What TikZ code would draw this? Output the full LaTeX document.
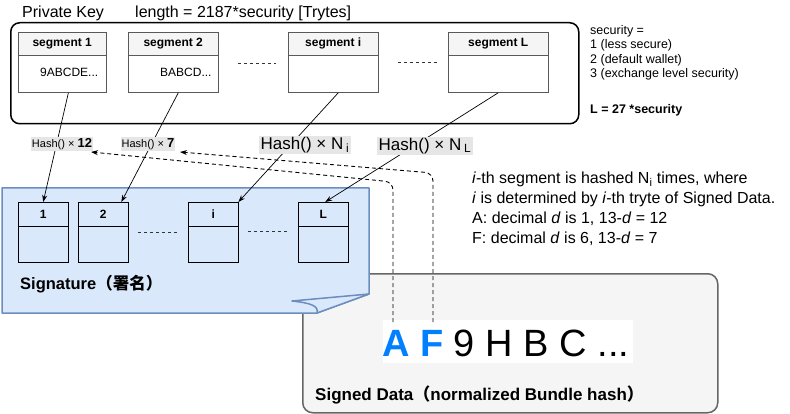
\documentclass[tikz,border=0pt]{standalone}
\usepackage{fontspec}
\setmainfont{Liberation Sans}
\newfontfamily\cjk{Noto Sans CJK SC}
\usetikzlibrary{arrows.meta,calc}
\definecolor{sigfill}{HTML}{DAE8FC}
\definecolor{sigdraw}{HTML}{6C8EBF}
\definecolor{datafill}{HTML}{F5F5F5}
\definecolor{datadraw}{HTML}{666666}
\definecolor{hashbg}{HTML}{E6E6E6}
\definecolor{headbg}{HTML}{F5F5F5}
\definecolor{blueA}{HTML}{007FFF}
\newcommand\fsz[1]{\fontsize{#1}{#1}\selectfont}
\begin{document}
\begin{tikzpicture}[x=1pt,y=-1pt,
  txt/.style={inner sep=0pt, anchor=west},
  seghead/.style={draw=black!65, fill=headbg, minimum height=23pt, inner sep=0pt, anchor=north west, font=\fsz{12}\bfseries},
  segbody/.style={draw=black!65, fill=white, minimum height=37pt, inner sep=0pt, anchor=north},
  sighead/.style={draw=black, minimum width=50pt, minimum height=24pt, inner sep=0pt, anchor=north west, font=\fsz{12}\bfseries},
  sigbody/.style={draw=black, minimum width=50pt, minimum height=36pt, inner sep=0pt, anchor=north},
  gap/.style={dashed, black!80},
  arr/.style={-{Stealth[length=7pt,width=5pt]}, black, line width=0.7pt},
  darr/.style={-{Stealth[length=7pt,width=5pt]}, black, line width=0.9pt, dash pattern=on 4pt off 3pt, rounded corners=8pt},
  hashs/.style={fill=hashbg, inner sep=1pt, font=\fsz{11}},
  hashb/.style={fill=hashbg, inner sep=1.5pt, font=\fsz{17}},
  sigshape/.style={fill=sigfill, draw=sigdraw, line width=1.5pt, line join=round}
]
\useasboundingbox (0,0) rectangle (790,414);
\fill[white] (0,0) rectangle (790,414);

% ---------- Private key ----------
\node[txt, font=\fsz{16}] (pk) at (22,13) {Private Key};
\node[txt, font=\fsz{16}] (len) at (135,13) {length = 2187*security [Trytes]};
\node[draw=black, line width=1.5pt, rounded corners=9pt, minimum width=568pt, minimum height=101pt, inner sep=0pt, anchor=north west] (pkbox) at (10,22) {};

\node[seghead, minimum width=88pt] (s1h) at (18,32) {segment 1};
\node[segbody, minimum width=88pt] (s1b) at (s1h.south) {};
\node[seghead, minimum width=90pt] (s2h) at (128,32) {segment 2};
\node[segbody, minimum width=90pt] (s2b) at (s2h.south) {};
\node[seghead, minimum width=90pt] (s3h) at (288,32) {segment i};
\node[segbody, minimum width=90pt] (s3b) at (s3h.south) {};
\node[seghead, minimum width=100pt] (s4h) at (448,32) {segment L};
\node[segbody, minimum width=100pt] (s4b) at (s4h.south) {};
\node[txt, font=\fsz{12}] (t1) at (40,72) {9ABCDE...};
\node[txt, font=\fsz{12}] (t2) at (160,72) {BABCD...};
\draw[gap] (s2b.east |- 0,63) ++(20,0) coordinate (d1a) -- ++(38,0) coordinate (d1b);
\draw[gap] (s3b.east |- 0,62) ++(20,0) coordinate (d2a) -- ++(39,0) coordinate (d2b);

% ---------- notes right ----------
\node[anchor=north west, inner sep=0pt, align=left, font=\fontsize{12.5}{14.5}\selectfont] (sec) at (590,25) {security =\\1 (less secure)\\2 (default wallet)\\3 (exchange level security)};
\node[txt, font=\fsz{12.5}\bfseries] (Ltxt) at (590,110) {L = 27 *security};

% ---------- Signed data ----------
\node[draw=datadraw, fill=datafill, line width=1.5pt, rounded corners=10pt, minimum width=415pt, minimum height=139pt, inner sep=0pt, anchor=north west] (sdbox) at (302,273) {};
\node[fill=white, inner sep=0pt, minimum width=250pt, minimum height=43pt, anchor=north west] (sdtxtbg) at (383,320) {};
\node[txt, font=\fsz{38}] (sdtxt) at (382,343) {\textcolor{blueA}{\bfseries A F} 9 H B C ...};
\node[txt, font=\fsz{17}\bfseries] (sdlab) at (315,395) {Signed Data{\cjk （}normalized Bundle hash{\cjk ）}};

% ---------- Signature ----------
\draw[sigshape] (2,188) -- (369,188) -- (369,294) -- (317,313) -- (2,313) -- cycle;
\draw[sigshape] (369,294) -- (292,301) .. controls (311,303) and (319,306) .. (317,313) -- cycle;
\node[sighead] (g1h) at (18,202) {1};
\node[sigbody] (g1b) at (g1h.south) {};
\node[sighead] (g2h) at (78,202) {2};
\node[sigbody] (g2b) at (g2h.south) {};
\node[sighead] (g3h) at (188,202) {i};
\node[sigbody] (g3b) at (g3h.south) {};
\node[sighead] (g4h) at (298,202) {L};
\node[sigbody] (g4b) at (g4h.south) {};
\draw[gap] ($(g2b.east)+(10,-12)$) coordinate (e1a) -- ++(40,0) coordinate (e1b);
\draw[gap] ($(g3b.east)+(10,-13)$) coordinate (e2a) -- ++(40,0) coordinate (e2b);
\node[txt, font=\fsz{16.5}\bfseries] (siglab) at (20,284) {Signature{\cjk （署名）}};

% ---------- hash connectors ----------
\draw[arr] ($(s1b.south west)!0.57!(s1b.south east)$) -- (g1h.north);
\draw[arr] ($(s2b.south west)!0.556!(s2b.south east)$) -- ($(g2h.north west)!0.86!(g2h.north east)$);
\draw[arr] ($(s3b.south west)!0.556!(s3b.south east)$) -- (g3h.north east);
\draw[arr] (s4b.south) -- ($(g4h.north west)!0.54!(g4h.north east)$);

% ---------- dashed connectors ----------
\coordinate (pa) at (393,322);
\coordinate (pf) at (433,322);
\coordinate (ha) at (91,152);
\coordinate (hf) at (180,152);
\draw[darr] (pa) -- (393,182) -- (ha);
\draw[darr] (pf) -- (433,173) -- (hf);

% ---------- hash labels ----------
\node[hashs] (h1) at (62,144) {Hash() × {\fsz{13}\bfseries 12}};
\node[hashs] (h2) at (148,144) {Hash() × {\fsz{13}\bfseries 7}};
\node[hashb] (h3) at (305,145) {Hash() × N\,\textsubscript{i}};
\node[hashb] (h4) at (425,146) {Hash() × N\,\textsubscript{L}};

% ---------- explanation ----------
\node[anchor=north west, inner sep=0pt, align=left, font=\fontsize{16}{20}\selectfont] (expl) at (472,172) {\textit{i}-th segment is hashed N\textsubscript{i} times, where\\\textit{i} is determined by \textit{i}-th tryte of Signed Data.\\A: decimal \textit{d} is 1, 13-\textit{d} = 12\\F: decimal \textit{d} is 6, 13-\textit{d} = 7};
\end{tikzpicture}
\end{document}
